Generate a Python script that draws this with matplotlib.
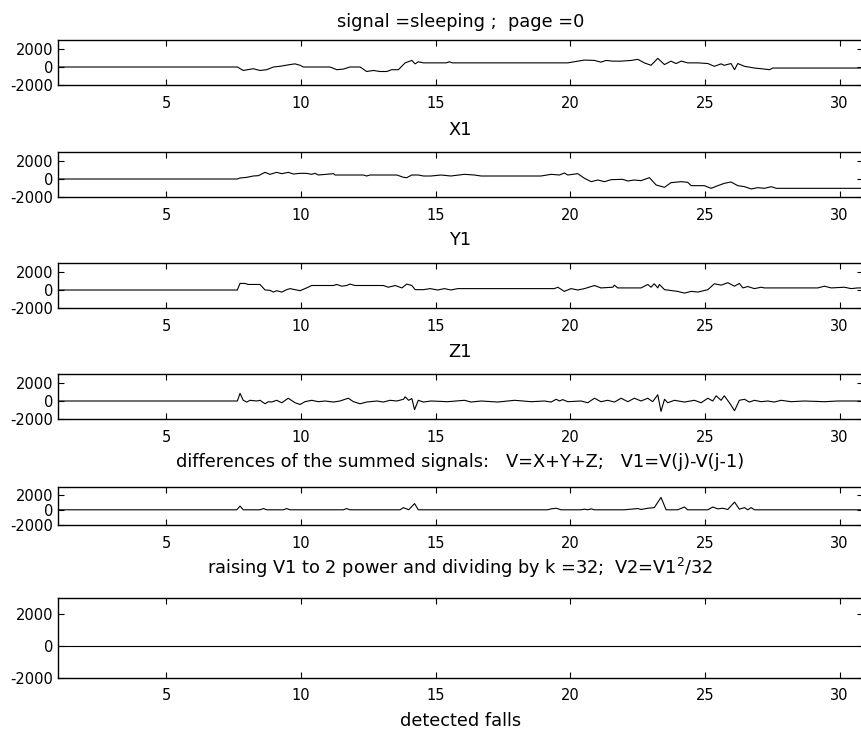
import numpy as np
import matplotlib.pyplot as plt

plt.rcParams['font.family'] = ['DejaVu Sans']
plt.rcParams['axes.unicode_minus'] = False

# ---- data (time in s, amplitude) ----
t_x = [1, 7.64, 7.86, 8.23, 8.48, 8.73, 8.98, 9.22, 9.60, 9.78,
       9.97, 10.09, 11.08, 11.33, 11.58, 11.82, 12.20, 12.44, 12.69, 12.94,
       13.19, 13.37, 13.62, 13.87, 14.12, 14.24, 14.36, 14.55, 15.40, 15.51,
       15.62, 19.91, 20.28, 20.53, 20.90, 21.14, 21.33, 21.58, 21.89, 22.26,
       22.51, 22.75, 23.00, 23.25, 23.50, 23.74, 23.93, 24.12, 24.36, 24.74,
       25.11, 25.35, 25.60, 25.72, 25.97, 26.10, 26.22, 26.47, 26.84, 27.21,
       27.40, 27.52, 30.87]
sig_x = [0, 0, -385, -190, -385, -300, 0, 77, 270, 350,
         190, 0, 0, -300, -230, 0, 0, -500, -385, -500,
         -500, -300, -300, 460, 730, 350, 580, 460, 460, 580,
         460, 460, 650, 770, 730, 540, 730, 650, 650, 730,
         850, 460, 190, 960, 270, 650, 385, 650, 460, 460,
         385, 77, 350, 190, 385, -300, 385, 77, -115, -230,
         -300, -115, -115]

t_y = [1, 7.64, 7.74, 7.99, 8.23, 8.42, 8.67, 8.85, 9.10, 9.29,
       9.53, 9.72, 9.97, 10.21, 10.40, 10.52, 10.65, 11.21, 11.27, 12.32,
       12.44, 12.57, 13.56, 13.81, 13.93, 14.12, 14.36, 14.55, 14.83, 15.20,
       15.57, 16.07, 16.44, 16.69, 18.91, 19.29, 19.60, 19.78, 19.91, 20.28,
       20.53, 20.78, 21.02, 21.27, 21.52, 21.95, 22.14, 22.38, 22.63, 22.94,
       23.19, 23.50, 23.74, 24.12, 24.36, 24.49, 24.98, 25.23, 25.48, 25.72,
       25.97, 26.22, 26.47, 26.72, 26.96, 27.21, 27.46, 27.65, 30.87]
sig_y = [0, 0, 111, 185, 333, 370, 740, 518, 740, 592,
         740, 555, 629, 629, 518, 629, 444, 592, 444, 444,
         333, 444, 444, 185, 148, 444, 444, 333, 333, 444,
         333, 518, 444, 333, 333, 518, 444, 666, 444, 592,
         74, -296, -111, -296, -74, -37, -222, -111, -185, 148,
         -666, -925, -407, -296, -370, -740, -740, -1036, -740, -481,
         -333, -740, -851, -1110, -962, -1036, -851, -1036, -1036]

t_z = [1, 7.64, 7.74, 7.92, 8.05, 8.48, 8.67, 8.85, 8.98, 9.10,
       9.29, 9.47, 9.60, 9.78, 9.97, 10.21, 10.40, 11.21, 11.33, 11.52,
       11.70, 11.82, 12.01, 13.06, 13.25, 13.50, 13.75, 13.93, 14.12, 14.24,
       14.55, 14.80, 15.08, 15.33, 15.57, 15.82, 19.41, 19.54, 19.78, 20.03,
       20.28, 20.53, 20.90, 21.14, 21.58, 21.64, 21.76, 22.63, 22.88, 23.00,
       23.12, 23.25, 23.31, 23.50, 23.99, 24.24, 24.49, 24.74, 25.11, 25.35,
       25.60, 25.85, 26.10, 26.28, 26.41, 26.59, 26.84, 27.09, 27.21, 29.19,
       29.44, 29.69, 30.18, 30.43, 30.68, 30.87]
sig_z = [0, 0, 730, 730, 616, 616, 0, -38, -230, -77,
         -230, 38, 154, 38, -77, 231, 500, 500, 616, 424,
         500, 655, 500, 500, 308, 500, 231, 655, 500, 38,
         38, 154, 0, 154, 0, 154, 154, 308, -154, 154,
         0, 154, 500, 231, 308, 539, 231, 231, 616, 308,
         693, 231, 616, 38, -154, -346, -154, -230, 38, 693,
         539, 808, 424, 730, 231, 385, 154, 308, 231, 231,
         424, 231, 308, 154, 231, 231]

t_v1 = [1, 7.64, 7.74, 7.86, 7.99, 8.11, 8.36, 8.48, 8.67, 8.79,
        8.91, 9.10, 9.29, 9.53, 9.78, 9.97, 10.15, 10.40, 10.65, 10.90,
        11.21, 11.45, 11.76, 11.95, 12.20, 12.44, 12.82, 13.06, 13.31, 13.56,
        13.81, 13.87, 14.00, 14.12, 14.22, 14.36, 14.55, 14.83, 15.45, 16.07,
        16.32, 16.69, 17.31, 17.93, 18.55, 19.04, 19.29, 19.48, 19.60, 19.72,
        19.91, 20.40, 20.65, 20.90, 21.14, 21.39, 21.64, 21.89, 22.14, 22.38,
        22.63, 22.88, 23.06, 23.25, 23.37, 23.50, 23.62, 23.87, 24.24, 24.61,
        24.86, 25.11, 25.29, 25.42, 25.60, 25.72, 25.91, 26.10, 26.28, 26.47,
        26.65, 26.84, 27.09, 27.33, 27.58, 27.83, 28.20, 28.69, 29.44, 29.93,
        30.87]
sig_v1 = [0, 0, 847, 77, -115, 77, 0, 77, -308, -77,
          -115, 77, -192, 308, -192, -385, -77, 77, -77, 0,
          -115, 0, 308, -77, -308, -115, 0, -115, 77, 0,
          192, 462, 77, 270, -962, 77, -115, 0, -77, 77,
          -115, 0, -115, 77, -77, 0, -115, 192, 0, 154,
          -77, 0, -192, 308, -77, 77, -115, 308, -77, 308,
          0, 308, -77, 693, -1155, 192, -192, 77, -115, 77,
          -192, 308, 0, 578, 77, 578, -192, -1078, 77, 192,
          -115, 77, -77, 0, -115, 77, -77, 0, -77, 0,
          0]

t_v2 = [1, 7.62, 7.74, 7.86, 8.48, 8.61, 8.73, 9.35, 9.47, 9.60,
        11.58, 11.70, 11.82, 13.68, 13.81, 14.00, 14.22, 14.36, 19.16, 19.29,
        19.48, 19.66, 20.40, 20.53, 20.65, 20.78, 20.90, 22.01, 22.26, 22.51,
        22.63, 22.88, 23.12, 23.37, 23.56, 23.99, 24.24, 24.36, 25.11, 25.29,
        25.48, 25.66, 25.85, 26.10, 26.28, 26.47, 26.59, 26.72, 26.84, 30.87]
sig_v2 = [0, 0, 490, 0, 0, 163, 0, 0, 163, 0,
          0, 163, 0, 0, 286, 0, 816, 0, 0, 122,
          204, 0, 0, 82, 0, 122, 0, 0, 82, 163,
          41, 204, 286, 1632, 0, 0, 367, 0, 0, 367,
          122, 204, 41, 1020, 82, 286, 0, 286, 0, 0]

t_falls = [1, 30.87]
sig_falls = [0, 0]

titles = ['signal =sleeping ;  page =0', 'X1', 'Y1', 'Z1',
          'differences of the summed signals:   V=X+Y+Z;   V1=V(j)-V(j-1)',
          'raising V1 to 2 power and dividing by k =32;  V2=V1$^2$/32',
          'detected falls']
x_ticks = [5, 10, 15, 20, 25, 30]
y_ticks = [-2000, 0, 2000]
y_tick_labels = ['-2000', '0', '2000']

series = [(t_x, sig_x), (t_y, sig_y), (t_z, sig_z),
          (t_v1, sig_v1), (t_v2, sig_v2), (t_falls, sig_falls)]

# ---- layout in pixels (top, bottom) of each axes box ----
W, H = 862, 730
left_px, right_px = 58.5, 863
boxes = [(40, 85), (152, 197), (263, 308), (374, 419), (487, 525), (598, 678)]
title_base = [27, 135, 245, 357, 467, 574, 726]   # baselines of the text lines
xpads = [8, 8, 8, 8, 8, 7]

fig = plt.figure(figsize=(W / 100, H / 100), dpi=100)

for k, (t, s) in enumerate(series):
    top, bot = boxes[k]
    ax = fig.add_axes([left_px / W, 1 - bot / H, (right_px - left_px) / W, (bot - top) / H])
    ax.plot(t, s, color='k', lw=0.8)
    ax.set_xlim(1, 30.87)
    ax.set_ylim(-2000, 3000)
    ax.set_xticks(x_ticks)
    ax.set_yticks(y_ticks)
    ax.set_yticklabels(y_tick_labels)
    ax.tick_params(direction='in', top=True, right=True, length=4.5, width=0.8,
                   labelsize=10.5, colors='k')
    ax.tick_params(axis='x', pad=xpads[k])
    ax.tick_params(axis='y', pad=3.7)
    for sp in ax.spines.values():
        sp.set_linewidth(1.0)

# 标题（每行文字放在两个子图之间）
cx = (left_px + 862) / 2 / W
for txt, yb in zip(titles, title_base):
    fig.text(cx, 1 - yb / H, txt, ha='center', va='baseline', fontsize=12.8)

fig.savefig('out.png', dpi=100, facecolor='white')
